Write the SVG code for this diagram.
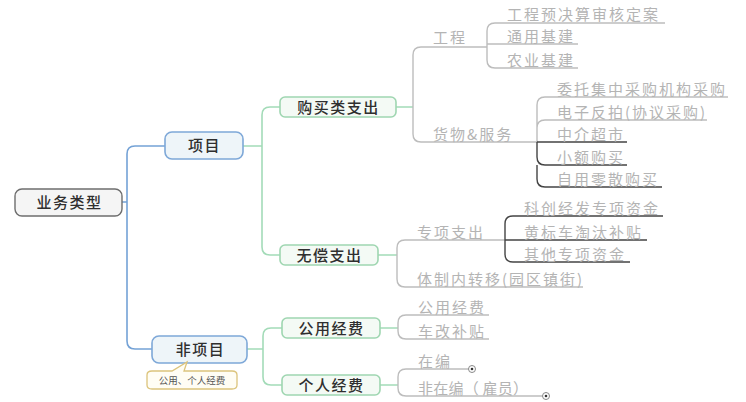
<svg xmlns="http://www.w3.org/2000/svg" width="746" height="402" viewBox="0 0 746 402">
<style>
.node text{font-family:"Noto Sans CJK SC","Noto Sans",sans-serif;font-size:15px;fill:#2f2f2f;text-anchor:middle;letter-spacing:1.5px;font-weight:500}
.gt{font-family:"Noto Sans CJK SC","Noto Sans",sans-serif;font-size:15px;fill:#b4b4b4;letter-spacing:2px}
.blue{fill:none;stroke:#74a2d6;stroke-width:1.6}
.green{fill:none;stroke:#a3dbb8;stroke-width:1.6}
.gray{fill:none;stroke:#bdbdbd;stroke-width:1.4}
.dark{fill:none;stroke:#444;stroke-width:1.4}
.gbox{fill:#f4faf5;stroke:#9fd6b1;stroke-width:1.6}
.bbox{fill:#eef5f9;stroke:#7ea8d8;stroke-width:1.6}
</style>
<rect width="746" height="402" fill="#fff"/>
<g id="connectors">
  <path class="blue" d="M122,202 L127,202 M165,146 L135,146 Q127,146 127,154 L127,341 Q127,349 135,349 L152,349"/>
  <path class="green" d="M243,146 L262,146 M280,107 L270,107 Q262,107 262,115 L262,247 Q262,255 270,255 L280,255"/>
  <path class="green" d="M247,349 L263,349 M282,328 L271,328 Q263,328 263,336 L263,377 Q263,385 271,385 L282,385"/>
  <path class="green" d="M396,107 L413,107 M378,255 L397,255 M380,328 L398,328 M380,385 L398,385"/>
  <path class="gray" d="M487,47 L421,47 Q413,47 413,55 L413,134 Q413,142 421,142 L537,142"/>
  <path class="gray" d="M665,23 L495,23 Q487,23 487,31 L487,60 Q487,68 495,68 L578,68 M487,44 L578,44"/>
  <path class="gray" d="M728,97 L545,97 Q537,97 537,105 L537,142 M537,128 Q537,120 545,120 L707,120"/>
  <path class="dark" d="M537,142 L627,142 M537,142 L537,157 Q537,165 545,165 L627,165 M537,165 L537,179 Q537,187 545,187 L662,187"/>
  <path class="gray" d="M505,240 L405,240 Q397,240 397,248 L397,279 Q397,287 405,287 L583,287"/>
  <path class="dark" d="M663,216 L513,216 Q505,216 505,224 L505,254 Q505,262 513,262 L630,262 M505,240 L647,240"/>
  <path class="gray" d="M489,315 L406,315 Q398,315 398,323 L398,331 Q398,339 406,339 L489,339"/>
  <path class="gray" d="M469,369 L406,369 Q398,369 398,377 L398,388 Q398,396 406,396 L543,396"/>
  <circle cx="472" cy="369" r="3.5" fill="#fff" stroke="#888" stroke-width="1"/>
  <circle cx="472" cy="369" r="1.3" fill="#333"/>
  <circle cx="546" cy="396" r="3.5" fill="#fff" stroke="#888" stroke-width="1"/>
  <circle cx="546" cy="396" r="1.3" fill="#333"/>
</g>
<g id="root" class="node">
  <rect x="15" y="189" width="107" height="27" rx="7" fill="#f5f5f5" stroke="#6e6e6e" stroke-width="1.4"/>
  <text x="69.5" y="208">业务类型</text>
</g>
<g id="xiangmu" class="node">
  <rect class="bbox" x="165" y="132" width="78" height="27" rx="7"/>
  <text x="204.5" y="151">项目</text>
</g>
<g id="feixiangmu" class="node">
  <rect class="bbox" x="152" y="336" width="95" height="27" rx="7"/>
  <text x="200.5" y="355">非项目</text>
</g>
<g id="callout">
  <path d="M154,371 L172,371 L187,362 L184,371 L232,371 Q237,371 237,375 L237,385 Q237,389 232,389 L152,389 Q147,389 147,385 L147,375 Q147,371 152,371 Z" fill="#fffdf4" stroke="#dcc47c" stroke-width="1.3"/>
  <text x="192" y="384" font-family="'Noto Sans CJK SC','Noto Sans',sans-serif" font-size="9.5" fill="#555" text-anchor="middle">公用、个人经费</text>
</g>
<g id="goumai" class="node">
  <rect class="gbox" x="280" y="97" width="116" height="20" rx="5"/>
  <text x="338.5" y="112.5">购买类支出</text>
</g>
<g id="wuchang" class="node">
  <rect class="gbox" x="280" y="245" width="98" height="20" rx="5"/>
  <text x="329.5" y="260.5">无偿支出</text>
</g>
<g id="gongyong" class="node">
  <rect class="gbox" x="282" y="318" width="98" height="20" rx="5"/>
  <text x="331.5" y="333.5">公用经费</text>
</g>
<g id="geren" class="node">
  <rect class="gbox" x="282" y="375" width="98" height="20" rx="5"/>
  <text x="331.5" y="390.5">个人经费</text>
</g>
<g id="gongcheng"><text class="gt" x="433" y="43">工程</text></g>
<g id="gc1"><text class="gt" x="507" y="20">工程预决算审核定案</text></g>
<g id="gc2"><text class="gt" x="507" y="42">通用基建</text></g>
<g id="gc3"><text class="gt" x="507" y="66">农业基建</text></g>
<g id="huowu"><text class="gt" x="433" y="140">货物&amp;服务</text></g>
<g id="hw1"><text class="gt" x="557" y="95">委托集中采购机构采购</text></g>
<g id="hw2"><text class="gt" x="557" y="118">电子反拍(协议采购)</text></g>
<g id="hw3"><text class="gt" x="557" y="140">中介超市</text></g>
<g id="hw4"><text class="gt" x="557" y="163">小额购买</text></g>
<g id="hw5"><text class="gt" x="557" y="185">自用零散购买</text></g>
<g id="zhuanxiang"><text class="gt" x="417" y="238">专项支出</text></g>
<g id="zx1"><text class="gt" x="524" y="214">科创经发专项资金</text></g>
<g id="zx2"><text class="gt" x="524" y="238">黄标车淘汰补贴</text></g>
<g id="zx3"><text class="gt" x="524" y="260">其他专项资金</text></g>
<g id="tizhi"><text class="gt" x="417" y="285">体制内转移(园区镇街)</text></g>
<g id="gy1"><text class="gt" x="418" y="313">公用经费</text></g>
<g id="gy2"><text class="gt" x="418" y="337">车改补贴</text></g>
<g id="gr1"><text class="gt" x="418" y="367">在编</text></g>
<g id="gr2"><text class="gt" x="418" y="394" textLength="112" lengthAdjust="spacing">非在编（ 雇员）</text></g>
</svg>
